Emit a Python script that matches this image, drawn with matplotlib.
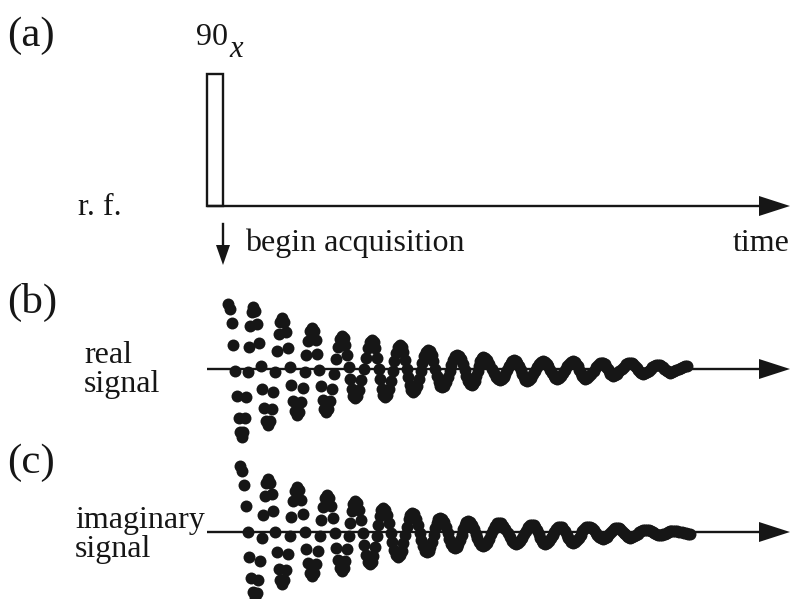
import numpy as np
import matplotlib
matplotlib.use("Agg")
from matplotlib import pyplot as plt, patches

real_base = 369
real_peak_x = [228, 253, 282, 312, 342, 372, 400, 428, 457, 483, 514, 543, 573, 602, 630, 658, 687]
real_peak_amp = [65, 62, 51, 41, 33, 29, 24, 19, 14, 12, 9, 8, 8, 6.5, 6.5, 4.5, 3.5]
real_trough_x = [242, 268, 297, 326, 355, 385, 413, 442, 472, 500, 527, 557, 585, 613, 643, 670]
real_trough_amp = [68, 56, 46, 43, 29, 28, 23, 18, 16, 11, 11.5, 9.5, 9.5, 6.5, 4.5, 3.5]

imag_base = 532
imag_peak_x = [240, 268, 297, 327, 355, 383, 412, 440, 468, 499, 532, 560, 588, 617, 645, 673]
imag_peak_amp = [66, 53, 45, 37, 31, 24, 19, 14, 11, 9.5, 7.5, 5.5, 5.5, 4.5, 2.5, 1.5]
imag_trough_x = [255, 282, 312, 342, 370, 398, 427, 455, 483, 516, 545, 573, 603, 630, 660, 690]
imag_trough_amp = [65, 52, 44, 39, 32, 25, 20, 16, 14, 12, 11.5, 10.5, 6.5, 5.5, 3, 2]

rf_base = 206
pulse_x = (207, 223)
pulse_top = 74

ink = '#161616'
plt.rcParams['font.family'] = ['Liberation Serif', 'DejaVu Serif']

fig = plt.figure(figsize=(7.93, 5.99), dpi=100)
ax = fig.add_axes([0, 0, 1, 1])
ax.set_xlim(0, 793)
ax.set_ylim(599, 0)
ax.axis('off')


def samples(peak_x, peak_amp, trough_x, trough_amp, base, n=8):
    ext = [(x, base - a) for x, a in zip(peak_x, peak_amp)]
    ext += [(x, base + a) for x, a in zip(trough_x, trough_amp)]
    ext.sort()
    xs, ys = [], []
    for (x0, y0), (x1, y1) in zip(ext[:-1], ext[1:]):
        for j in range(n):
            f = j / n
            w = (1 - np.cos(np.pi * f)) / 2
            xs.append(x0 + f * (x1 - x0))
            ys.append(y0 + w * (y1 - y0))
    xs.append(ext[-1][0])
    ys.append(ext[-1][1])
    return xs, ys


def axis_arrow(y, x0, x1=790, lw=1.7):
    ax.plot([x0, x1 - 25], [y, y], color=ink, lw=lw, solid_capstyle='butt', zorder=1)
    ax.add_patch(patches.Polygon([[x1 - 31, y - 10], [x1, y], [x1 - 31, y + 10]],
                                 closed=True, color=ink, lw=0, zorder=2))


# (a) r.f. line with the 90x pulse
axis_arrow(rf_base, pulse_x[0])
ax.add_patch(patches.Rectangle((pulse_x[0], pulse_top), pulse_x[1] - pulse_x[0],
                               rf_base - pulse_top, fill=False, ec=ink, lw=1.7, zorder=2))
ax.text(196, 45, '90', fontsize=23, color=ink, va='baseline', ha='left')
ax.text(229, 57, 'x', fontsize=22, color=ink, va='baseline', ha='left', style='italic')
ax.text(78, 215, 'r. f.', fontsize=23, color=ink, va='baseline', ha='left')

# begin acquisition arrow
ax.plot([223, 223], [224, 248], color=ink, lw=1.7, zorder=1)
ax.add_patch(patches.Polygon([[216, 245], [223, 265], [230, 245]], closed=True,
                             color=ink, lw=0, zorder=2))
ax.text(245, 251, 'begin acquisition', fontsize=23, color=ink, va='baseline', ha='left')
ax.text(790, 251, 'time', fontsize=23, color=ink, va='baseline', ha='right')

# panel labels
ax.text(7, 36, '(a)', fontsize=31, color=ink, va='center', ha='left')
ax.text(7, 302, '(b)', fontsize=31, color=ink, va='center', ha='left')
ax.text(7, 463, '(c)', fontsize=31, color=ink, va='center', ha='left')

# (b) real signal
ax.text(84, 363, 'real', fontsize=23, color=ink, va='baseline', ha='left')
ax.text(84, 392, 'signal', fontsize=23, color=ink, va='baseline', ha='left')
axis_arrow(real_base, 207)
xs, ys = samples(real_peak_x, real_peak_amp, real_trough_x, real_trough_amp, real_base)
ax.plot(xs, ys, 'o', ms=8.6, color=ink, mew=0, zorder=3)

# (c) imaginary signal
ax.text(75, 528, 'imaginary', fontsize=23, color=ink, va='baseline', ha='left')
ax.text(75, 557, 'signal', fontsize=23, color=ink, va='baseline', ha='left')
axis_arrow(imag_base, 207)
xs, ys = samples(imag_peak_x, imag_peak_amp, imag_trough_x, imag_trough_amp, imag_base)
ax.plot(xs, ys, 'o', ms=8.6, color=ink, mew=0, zorder=3)

fig.savefig('out.png', dpi=100)
